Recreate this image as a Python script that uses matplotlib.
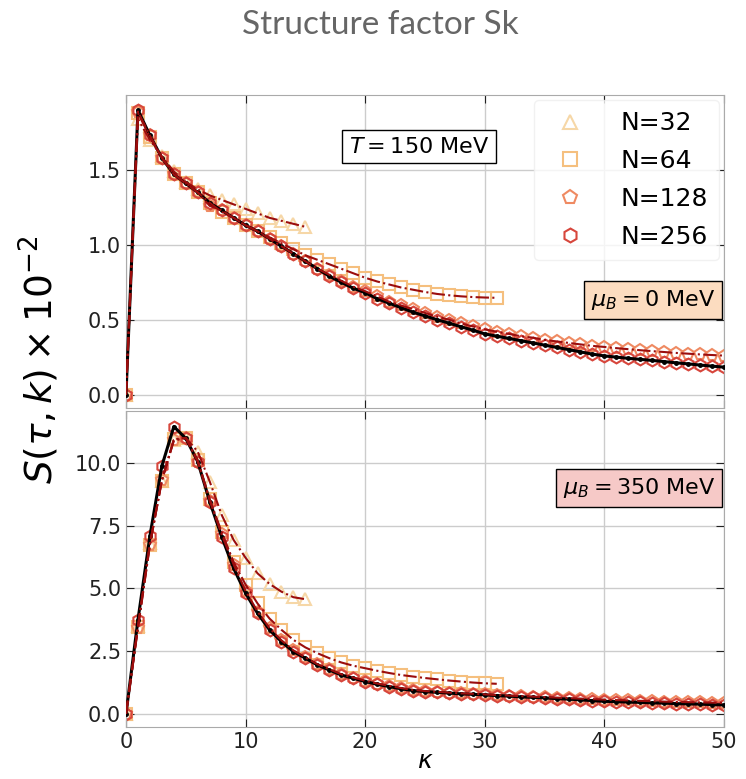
import numpy as np
import matplotlib
matplotlib.use('Agg')
import matplotlib.pyplot as plt

# wave numbers per lattice size (k = 0 .. N/2 - 1, cut at 50)
k_32 = np.arange(0, 16)
k_64 = np.arange(0, 32)
k_128 = np.arange(0, 51)
k_256 = np.arange(0, 51)

# T = 150 MeV, mu_B = 0 MeV
top_32 = [0, 1.84, 1.70, 1.59, 1.49, 1.42, 1.37, 1.33, 1.30, 1.27, 1.24,
          1.21, 1.18, 1.16, 1.14, 1.12]
top_64 = [0, 1.88, 1.72, 1.58, 1.47, 1.41, 1.35, 1.28, 1.22, 1.18, 1.13,
          1.09, 1.05, 1.01, 0.97, 0.93, 0.90, 0.87, 0.84, 0.81, 0.78,
          0.755, 0.735, 0.715, 0.70, 0.685, 0.672, 0.663, 0.656, 0.651,
          0.648, 0.646]
top_128 = [0, 1.89, 1.73, 1.58, 1.47, 1.41, 1.35, 1.26, 1.23, 1.18, 1.13,
           1.09, 1.04, 0.99, 0.94, 0.89, 0.84, 0.80, 0.76, 0.72, 0.69,
           0.655, 0.62, 0.595, 0.57, 0.545, 0.52, 0.50, 0.475, 0.455,
           0.435, 0.42, 0.405, 0.39, 0.38, 0.365, 0.355, 0.345, 0.335,
           0.325, 0.318, 0.31, 0.303, 0.296, 0.29, 0.284, 0.278, 0.273,
           0.268, 0.264, 0.26]
top_256 = [0, 1.90, 1.73, 1.58, 1.47, 1.41, 1.35, 1.28, 1.23, 1.18, 1.13,
           1.09, 1.04, 0.99, 0.94, 0.89, 0.84, 0.79, 0.75, 0.71, 0.68,
           0.64, 0.61, 0.58, 0.55, 0.525, 0.50, 0.477, 0.453, 0.43,
           0.405, 0.39, 0.375, 0.36, 0.345, 0.33, 0.315, 0.30, 0.285,
           0.27, 0.258, 0.25, 0.242, 0.235, 0.228, 0.22, 0.212, 0.205,
           0.197, 0.19, 0.183]

# T = 150 MeV, mu_B = 350 MeV
bot_32 = [0, 3.5, 6.8, 9.3, 10.9, 11.0, 10.45, 9.26, 7.93, 6.93, 6.22,
          5.6, 5.18, 4.87, 4.65, 4.57]
bot_64 = [0, 3.45, 6.75, 9.3, 10.95, 11.0, 10.1, 8.55, 7.25, 6.05, 5.15,
          4.40, 3.80, 3.35, 2.95, 2.65, 2.42, 2.22, 2.05, 1.92, 1.82,
          1.72, 1.63, 1.55, 1.49, 1.43, 1.38, 1.33, 1.29, 1.25, 1.22, 1.20]
bot_128 = [0, 3.41, 6.73, 9.32, 10.9, 11.0, 10.05, 8.5, 7.15, 5.95, 4.90,
           4.08, 3.42, 2.93, 2.53, 2.25, 1.98, 1.78, 1.58, 1.45, 1.32,
           1.21, 1.12, 1.03, 0.96, 0.91, 0.88, 0.85, 0.82, 0.80, 0.78,
           0.75, 0.73, 0.71, 0.69, 0.67, 0.65, 0.63, 0.61, 0.59, 0.57,
           0.55, 0.54, 0.52, 0.51, 0.49, 0.48, 0.47, 0.46, 0.45, 0.44]
bot_256 = [0, 3.75, 7.09, 9.88, 11.45, 10.98, 10.05, 8.46, 7.06, 5.80, 4.81,
           4.01, 3.35, 2.88, 2.48, 2.22, 1.95, 1.75, 1.55, 1.42, 1.29,
           1.18, 1.09, 1.00, 0.93, 0.89, 0.86, 0.83, 0.80, 0.78, 0.76,
           0.73, 0.71, 0.68, 0.66, 0.64, 0.61, 0.59, 0.56, 0.53, 0.50,
           0.49, 0.47, 0.46, 0.44, 0.43, 0.41, 0.40, 0.39, 0.37, 0.36]

labels = ['N=32', 'N=64', 'N=128', 'N=256']
markers = ['^', 's', 'p', 'h']
colors = ['#f6d7a7', '#f5bf7e', '#ef8a62', '#d7463c']
x_ticks = [0, 10, 20, 30, 40, 50]
top_yticks = [0.0, 0.5, 1.0, 1.5]
bot_yticks = [0.0, 2.5, 5.0, 7.5, 10.0]


def draw_panel(ax, ks, vals):
    for i, (k, v) in enumerate(zip(ks, vals)):
        ax.plot(k, v, linestyle='none', marker=markers[i], markersize=8.5,
                markerfacecolor='none', markeredgecolor=colors[i],
                markeredgewidth=1.5, label=labels[i], zorder=2)
    # curve through the largest lattice
    ax.plot(ks[3], vals[3], color='black', lw=2.2, zorder=3)
    ax.plot(ks[3], vals[3], 'o', color='black', markersize=2.5, zorder=4)
    for i in range(3):
        ax.plot(ks[i], vals[i], color='#9b0d0d', lw=1.5, ls='-.', zorder=4)
    ax.set_xlim(0, 50)
    ax.set_xticks(x_ticks)
    ax.grid(True, color='#cccccc', lw=1.0)
    ax.tick_params(direction='in', top=True, right=True, length=6,
                   labelsize=15, colors='#222222')
    for s in ax.spines.values():
        s.set_color('#aaaaaa')


fig = plt.figure(figsize=(7.46, 7.79), dpi=100)
ax1 = fig.add_axes([0.1689, 0.4762, 0.8016, 0.4018])
ax2 = fig.add_axes([0.1689, 0.0668, 0.8016, 0.4056])

draw_panel(ax1, [k_32, k_64, k_128, k_256], [top_32, top_64, top_128, top_256])
draw_panel(ax2, [k_32, k_64, k_128, k_256], [bot_32, bot_64, bot_128, bot_256])

ax1.set_ylim(-0.09, 2.0)
ax1.set_yticks(top_yticks)
ax1.set_yticklabels(['0.0', '0.5', '1.0', '1.5'])
ax1.tick_params(labelbottom=False)
ax2.set_ylim(-0.52, 12.07)
ax2.set_yticks(bot_yticks)
ax2.set_yticklabels(['0.0', '2.5', '5.0', '7.5', '10.0'])
ax2.set_xlabel(r'$\kappa$', fontsize=18, labelpad=-2)

leg = ax1.legend(loc='upper right', fontsize=18, handletextpad=1.0,
                 borderpad=0.45, labelspacing=0.55, frameon=True,
                 fancybox=True, handlelength=2.0, borderaxespad=0.2,
                 framealpha=0.8)
leg.get_frame().set_edgecolor('#eeeeee')
for h in leg.legend_handles:
    h.set_markersize(10)

ax1.text(0.49, 0.835, r'$T = 150$ MeV', transform=ax1.transAxes,
         fontsize=16, va='center', ha='center',
         bbox=dict(boxstyle='square,pad=0.3', fc='white', ec='black'))
ax1.text(0.985, 0.345, r'$\mu_B = 0$ MeV', transform=ax1.transAxes,
         fontsize=16, va='center', ha='right',
         bbox=dict(boxstyle='square,pad=0.3', fc='#fcdcc0', ec='black'))
ax2.text(0.985, 0.756, r'$\mu_B = 350$ MeV', transform=ax2.transAxes,
         fontsize=16, va='center', ha='right',
         bbox=dict(boxstyle='square,pad=0.3', fc='#f6c9c7', ec='black'))

fig.text(0.052, 1 - 360 / 779, r'$S(\tau, k)\times10^{-2}$', rotation=90,
         fontsize=27, va='center', ha='center')
fig.text(0.51, 1 - 25 / 779, 'Structure factor Sk', fontsize=24,
         family='Lato', color='#666666', ha='center', va='center')

fig.savefig('out.png', dpi=100, facecolor='white')
